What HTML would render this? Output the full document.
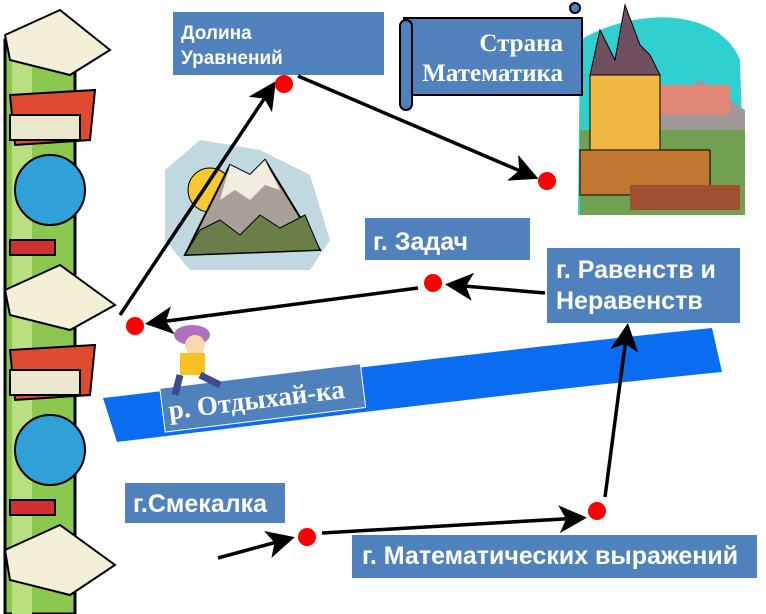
<!DOCTYPE html>
<html><head><meta charset="utf-8"><style>
body{margin:0;width:766px;height:614px;overflow:hidden;background:#fff}
svg{display:block}
.b{font-family:"Liberation Sans",sans-serif;font-weight:bold;fill:#fff}
.s{font-family:"Liberation Serif",serif;font-weight:bold;fill:#fff}
</style></head><body>
<svg width="766" height="614" viewBox="0 0 766 614">
<defs><marker id="a" markerWidth="8" markerHeight="8" refX="6" refY="4" orient="auto" markerUnits="strokeWidth"><path d="M0,0L8,4L0,8L2,4Z" fill="#000"/></marker></defs>
<!-- river -->
<path d="M103,398 C300,375 500,350 712,328 L722,372 C520,392 300,420 117,442 Z" fill="#0a6cf0"/>
<!-- book column -->
<rect x="5" y="40" width="70" height="574" fill="#8cc850" stroke="#000" stroke-width="3"/>
<rect x="12" y="40" width="20" height="574" fill="#b8e080"/>
<g stroke="#000" stroke-width="2">
<path d="M5,35 L60,10 L110,50 L70,75 L10,60Z" fill="#f4f0d8"/>
<path d="M10,95 L95,90 L90,140 L15,145Z" fill="#e04a30"/>
<path d="M10,115 L80,115 L80,140 L10,140Z" fill="#ece8d0"/>
<circle cx="50" cy="190" r="35" fill="#30a0d8"/>
<path d="M10,240 L55,240 L55,255 L10,255Z" fill="#d03030"/>
<path d="M5,290 L60,265 L115,305 L70,330 L10,315Z" fill="#f4f0d8"/>
<path d="M10,350 L95,345 L90,395 L15,400Z" fill="#e04a30"/>
<path d="M10,370 L80,370 L80,395 L10,395Z" fill="#ece8d0"/>
<circle cx="50" cy="450" r="35" fill="#30a0d8"/>
<path d="M10,500 L55,500 L55,515 L10,515Z" fill="#d03030"/>
<path d="M5,550 L60,525 L115,565 L70,595 L10,580Z" fill="#f4f0d8"/>
</g>
<!-- mountain -->
<path d="M165,170 L200,140 L260,150 L310,175 L330,240 L310,270 L190,270 L165,240Z" fill="#c0d8e0"/>
<circle cx="210" cy="190" r="22" fill="#f8c830" stroke="#000"/>
<path d="M185,255 L230,165 L250,175 L265,160 L320,250 Z" fill="#a8a098" stroke="#000" stroke-width="2"/>
<path d="M230,165 L250,175 L265,160 L280,190 L265,185 L250,200 L235,190 L220,200Z" fill="#f0ece0"/>
<path d="M200,230 L220,220 L240,235 L260,215 L280,228 L305,215 L320,250 L185,255Z" fill="#6a7e48" stroke="#000"/>
<!-- castle -->
<path d="M580,40 C640,5 720,10 740,60 L745,215 L578,215 Z" fill="#30d0d0"/>
<path d="M650,120 L700,80 L745,110 L745,215 L650,215Z" fill="#a09898"/>
<rect x="660" y="85" width="70" height="30" fill="#e08878"/>
<rect x="580" y="130" width="165" height="85" fill="#70a050"/>
<rect x="590" y="75" width="70" height="80" fill="#f0b840" stroke="#000"/>
<path d="M590,75 L600,30 L615,60 L625,5 L640,45 L650,55 L660,75Z" fill="#705060" stroke="#000"/>
<rect x="580" y="150" width="130" height="45" fill="#c07830" stroke="#000"/>
<rect x="630" y="185" width="110" height="25" fill="#a05030"/>
<!-- scroll -->
<path d="M404,18 H582 V95 H412 Z" fill="#4f81bd" stroke="#000" stroke-width="2"/>
<rect x="400" y="20" width="12" height="90" rx="6" fill="#4f81bd" stroke="#000" stroke-width="2"/>
<circle cx="575" cy="8" r="5" fill="#4f81bd" stroke="#000" stroke-width="2"/>
<text class="s" x="563" y="51" font-size="25" text-anchor="end">Страна</text>
<text class="s" x="563" y="81" font-size="25" text-anchor="end">Математика</text>
<!-- boxes -->
<rect x="173" y="12" width="211" height="63" fill="#4f81bd"/>
<text class="b" x="181" y="39" font-size="19">Долина</text>
<text class="b" x="181" y="64" font-size="19">Уравнений</text>
<rect x="365" y="218" width="165" height="42" fill="#4f81bd"/>
<text class="b" x="373" y="250" font-size="25">г. Задач</text>
<rect x="547" y="248" width="193" height="75" fill="#4f81bd"/>
<text class="b" x="556" y="278" font-size="25">г. Равенств и</text>
<text class="b" x="556" y="309" font-size="25">Неравенств</text>
<rect x="125" y="483" width="160" height="40" fill="#4f81bd"/>
<text class="b" x="133" y="512" font-size="25">г.Смекалка</text>
<rect x="352" y="535" width="405" height="43" fill="#4f81bd"/>
<text class="b" x="362" y="564" font-size="25">г. Математических выражений</text>
<g transform="rotate(-7 262 400)">
<rect x="162" y="376" width="202" height="44" fill="#4f81bd" stroke="#fff" stroke-width="1"/>
<text class="s" x="168" y="408" font-size="27">р. Отдыхай-ка</text>
</g>
<!-- boy -->
<ellipse cx="192" cy="335" rx="18" ry="10" fill="#b070c0"/>
<circle cx="195" cy="345" r="10" fill="#f8d8b0"/>
<rect x="180" y="353" width="25" height="22" fill="#f8c020"/>
<path d="M180,375 L175,395 M200,375 L220,385" stroke="#404890" stroke-width="7"/>
<!-- arrows -->
<g stroke="#000" stroke-width="3.5" fill="none">
<line x1="120" y1="315" x2="272" y2="87" marker-end="url(#a)"/>
<line x1="298" y1="76" x2="532" y2="176" marker-end="url(#a)"/>
<line x1="545" y1="293" x2="452" y2="285" marker-end="url(#a)"/>
<line x1="418" y1="288" x2="152" y2="323" marker-end="url(#a)"/>
<line x1="218" y1="558" x2="288" y2="539" marker-end="url(#a)"/>
<line x1="322" y1="533" x2="580" y2="518" marker-end="url(#a)"/>
<line x1="605" y1="497" x2="627" y2="330" marker-end="url(#a)"/>
</g>
<g fill="#f00">
<circle cx="284" cy="84" r="9"/><circle cx="547" cy="181" r="9"/>
<circle cx="433" cy="283" r="9"/><circle cx="135" cy="326" r="9"/>
<circle cx="307" cy="537" r="9"/><circle cx="597" cy="511" r="9"/>
</g>
</svg>
</body></html>
